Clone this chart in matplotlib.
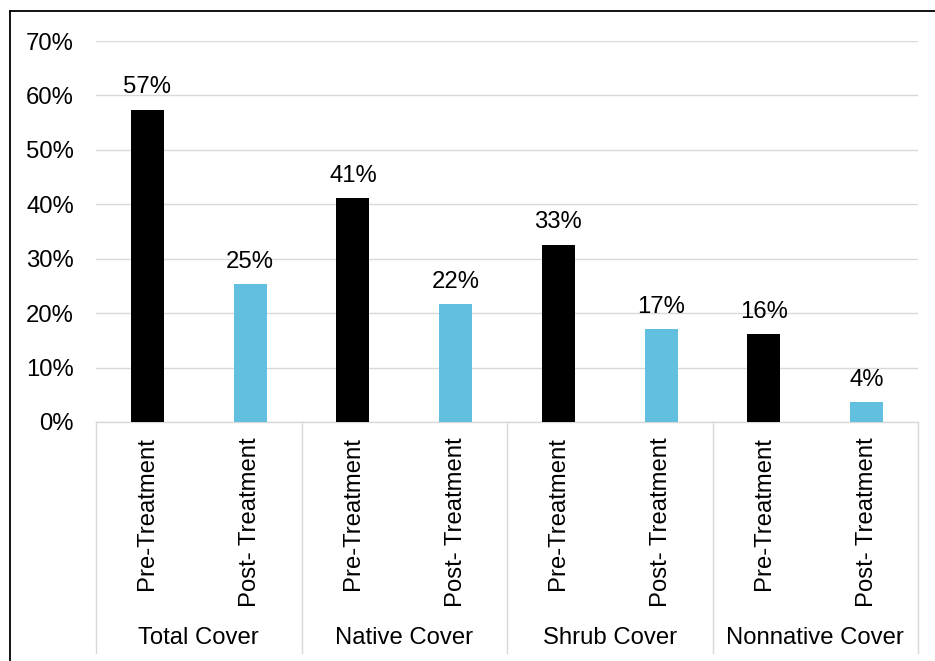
import matplotlib.pyplot as plt
from matplotlib.lines import Line2D
from matplotlib.ticker import FuncFormatter
import matplotlib.transforms as mtransforms

plt.rcParams['font.family'] = ['Liberation Sans', 'DejaVu Sans']
plt.rcParams['font.size'] = 17.2

# cover by survey period, in percent
groups = ["Total Cover", "Native Cover", "Shrub Cover", "Nonnative Cover"]
periods = ["Pre-Treatment", "Post- Treatment"]
pre_values = [57.4, 41.1, 32.6, 16.1]
post_values = [25.3, 21.7, 17.0, 3.7]
y_ticks = [0, 10, 20, 30, 40, 50, 60, 70]

pre_color = "#000000"
post_color = "#61BFDF"
grid_color = "#D9D9D9"

fig = plt.figure(figsize=(9.35, 6.61), dpi=100)
ax = fig.add_axes([96 / 935, 1 - 422 / 661, 822 / 935, 381 / 661])

values = []
colors = []
for pre, post in zip(pre_values, post_values):
    values += [pre, post]
    colors += [pre_color, post_color]
xpos = list(range(len(values)))

bars = ax.bar(xpos, values, width=0.32, color=colors, zorder=3)
for rect, v in zip(bars, values):
    ax.annotate(f"{v:.0f}%", (rect.get_x() + rect.get_width() / 2, v),
                xytext=(0, 8), textcoords="offset points",
                ha="center", va="bottom")

ax.set_xlim(-0.5, len(values) - 0.5)
ax.set_ylim(0, 70)
ax.set_yticks(y_ticks)
ax.yaxis.set_major_formatter(FuncFormatter(lambda v, _: f"{v:.0f}%"))
ax.yaxis.grid(True, color=grid_color, linewidth=1.0, zorder=0)
ax.tick_params(axis="y", length=0, pad=16)

ax.set_xticks(xpos)
ax.set_xticklabels(periods * len(groups), rotation=90, va="top", ha="center")
ax.tick_params(axis="x", length=0, pad=11)

for side in ["top", "right", "left"]:
    ax.spines[side].set_visible(False)
ax.spines["bottom"].set_color(grid_color)
ax.spines["bottom"].set_linewidth(1.0)

# group separators and category labels below the axis
trans = mtransforms.blended_transform_factory(ax.transData, ax.transAxes)
for i in range(len(groups) + 1):
    ax.add_line(Line2D([2 * i - 0.5, 2 * i - 0.5], [0, -0.606], transform=trans,
                       color=grid_color, linewidth=1.0, clip_on=False))
for i, name in enumerate(groups):
    ax.text(2 * i + 0.5, -0.567, name, transform=trans, ha="center", va="center")

# chart frame
fig.add_artist(Line2D([10 / 935, 1], [1 - 11 / 661, 1 - 11 / 661],
                      transform=fig.transFigure, color="black", linewidth=1.3))
fig.add_artist(Line2D([10 / 935, 10 / 935], [0, 1 - 11 / 661],
                      transform=fig.transFigure, color="black", linewidth=1.3))

fig.savefig("out.png", dpi=100)
